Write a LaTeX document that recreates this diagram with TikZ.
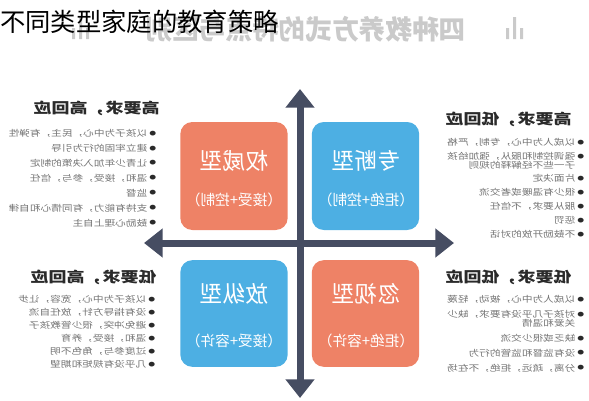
\documentclass[tikz,border=0pt]{standalone}
\usepackage{fontspec}
\usetikzlibrary{arrows.meta}
\newfontfamily\cjk{Noto Sans CJK SC}
\definecolor{warm}{HTML}{EE8266}
\definecolor{cool}{HTML}{4DAFE3}
\definecolor{axisc}{HTML}{464D62}
\definecolor{inkdark}{HTML}{2A2A2A}
\definecolor{inkgray}{HTML}{747474}
\definecolor{fade}{HTML}{CACACA}
\newcommand\dotitem{{\color{inkdark}\raisebox{0.3pt}{\scalebox{1.35}{$\bullet$}}}\,}
\newcommand\dotgap{\phantom{\scalebox{1.35}{$\bullet$}\,}}

\begin{document}
\begin{tikzpicture}[x=0.75pt,y=-0.75pt,every node/.style={inner sep=0pt},
    flip/.style={xscale=-1},
    squash/.style={xscale=-1,yscale=0.8},
    quad/.style={rounded corners=9pt,minimum width=80.5pt,minimum height=81pt},
    boxtitle/.style={flip,text=white,font=\cjk\fontsize{17}{20}\selectfont},
    boxnote/.style={flip,text=white,font=\cjk\fontsize{11}{13}\selectfont},
    head/.style={squash,anchor=north west,text=inkdark,font=\cjk\bfseries\fontsize{13.5}{16}\selectfont},
    items/.style={squash,anchor=north west,align=left,text=inkgray,font=\cjk\fontsize{8}{#1}\selectfont},
    axis/.style={axisc,line width=5.25pt,{Triangle[width=21pt,length=14pt]}-{Triangle[width=21pt,length=14pt]}}]
\useasboundingbox (0,0) rectangle (589,400);

% faded banner behind the title
\node[flip,anchor=west,text=fade,font=\cjk\bfseries\fontsize{20}{24}\selectfont] (banner) at (466,29) {四种教养方式的特点与区别};
\fill[fade] (506,28) rectangle (509,39) (513,17) rectangle (516,39) (520,28) rectangle (523,39);
\fill[fade] (72,28) rectangle (75,39) (79,17) rectangle (82,39) (86,28) rectangle (89,39);
\node[anchor=west,font=\cjk\fontsize{19}{22}\selectfont] (title) at (0,22) {不同类型家庭的教育策略};

% quadrants
\node[quad,fill=warm] (auth) at (234,176) {};
\node[quad,fill=cool] (dict) at (365.5,176) {};
\node[quad,fill=cool,minimum height=80pt] (indul) at (234,313.5) {};
\node[quad,fill=warm,minimum height=80pt] (negl) at (365.5,313.5) {};
\node[boxtitle] (authT) at (234,161) {权威型};
\node[boxnote] (authN) at (234,200) {（接受+控制）};
\node[boxtitle] (dictT) at (366,161) {专断型};
\node[boxnote] (dictN) at (366,200) {（拒绝+控制）};
\node[boxtitle] (indulT) at (234,294) {放纵型};
\node[boxnote] (indulN) at (234,341) {（接受+容许）};
\node[boxtitle] (neglT) at (366,294) {忽视型};
\node[boxnote] (neglN) at (366,341) {（拒绝+容许）};

% axes
\coordinate (top) at (300,89);
\coordinate (bottom) at (300,398);
\coordinate (west) at (144,243);
\coordinate (east) at (454,243);
\draw[axis] (top) -- (bottom);
\draw[axis] (west) -- (east);

% side notes
\node[head] (authH) at (160,101) {高要求，高回应};
\node[items=14] (authL) at (157,129) {\dotitem 以孩子为中心，民主，有弹性\\
  \dotitem 建立牢固的行为引导\\
  \dotitem 让青少年加入决策的制定\\
  \dotitem 温和，接受，参与，信任\\
  \dotitem 监督\\
  \dotitem 支持有能力，有同情心和自律\\
  \dotitem 鼓励心理上自主};

\node[head] (dictH) at (572,112) {高要求，低回应};
\node[items=13.1] (dictL) at (585,138) {\dotitem 以成人为中心，专制，严格\\
  \dotitem 强调控制和服从，强加给孩\\[-5pt]
  \dotgap 子一些不经解释的规则\\
  \dotitem 片面决定\\
  \dotitem 很少有温暖或者交流\\
  \dotitem 服从要求，不信任\\
  \dotitem 惩罚\\
  \dotitem 不鼓励开放的对话};

\node[head] (indulH) at (157,270) {低要求，高回应};
\node[items=12.2] (indulL) at (156,295) {\dotitem 以孩子为中心，宽容，让步\\
  \dotitem 没有指导方针，放任自流\\
  \dotitem 避免冲突，很少管教孩子\\
  \dotitem 温和，接受，养育\\
  \dotitem 过度参与，角色不明\\
  \dotitem 几乎没有规矩和期望};

\node[head] (neglH) at (572,270) {低要求，低回应};
\node[items=14] (neglL) at (585,295) {\dotitem 以成人为中心，被动，轻蔑\\
  \dotitem 对孩子几乎没有要求，缺少\\[-5.5pt]
  \dotgap 关爱和温情\\
  \dotitem 缺乏或很少交流\\
  \dotitem 没有监督和监管的行为\\
  \dotitem 分离，疏远，拒绝，不在场};
\end{tikzpicture}
\end{document}
